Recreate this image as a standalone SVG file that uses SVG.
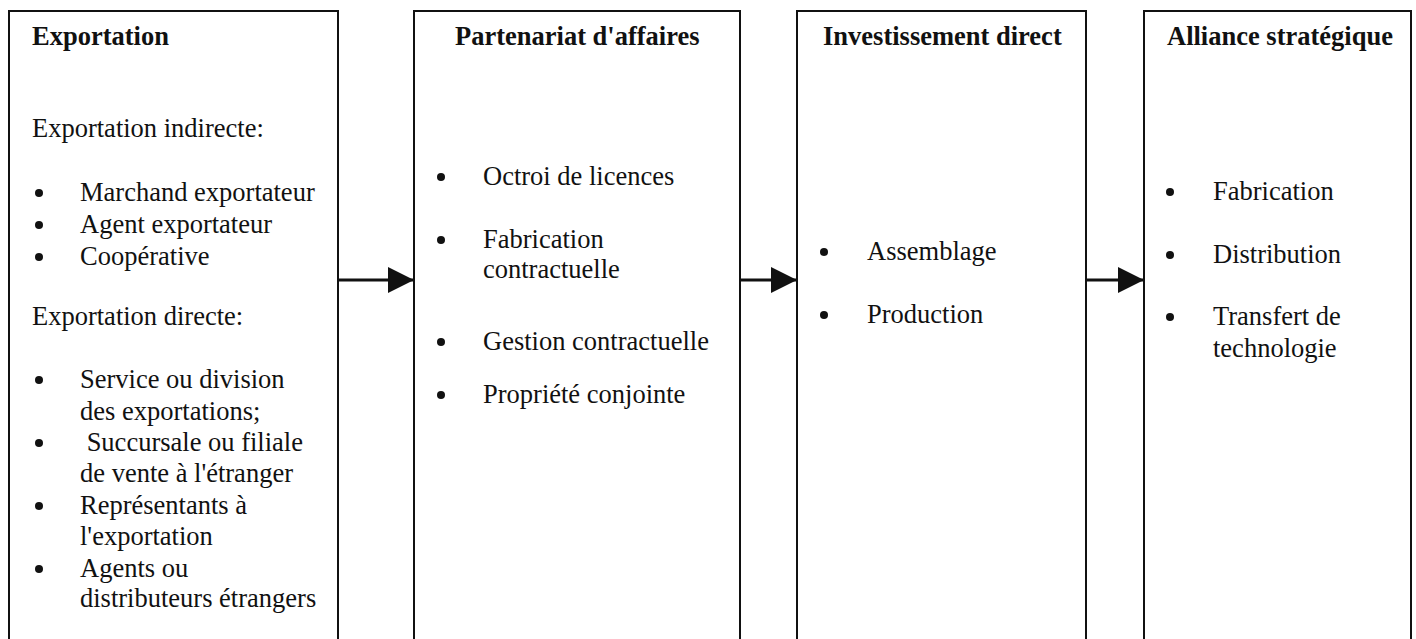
<svg xmlns="http://www.w3.org/2000/svg" width="1416" height="639" viewBox="0 0 1416 639">
<style>
.box{fill:#fff;stroke:#111;stroke-width:2}
.t{font-family:"Liberation Serif","Times New Roman",serif;font-size:26.5px;fill:#111}
.h{font-weight:bold}
.conn{stroke:#111;stroke-width:3;fill:none}
</style>
<defs>
<marker id="arr" markerUnits="userSpaceOnUse" markerWidth="28" markerHeight="26" refX="26" refY="13" orient="auto">
<path d="M0,0 L26,13 L0,26 Z" fill="#111"/>
</marker>
<circle id="b" r="4" fill="#111"/>
</defs>
<rect width="1416" height="639" fill="#fff"/>
<g id="n1">
<rect class="box" x="9" y="11" width="329" height="640"/>
<text class="t h" x="32" y="45">Exportation</text>
<text class="t" x="32" y="137">Exportation indirecte:</text>
<use href="#b" x="39" y="193"/><text class="t" x="80" y="201">Marchand exportateur</text>
<use href="#b" x="39" y="225"/><text class="t" x="80" y="233">Agent exportateur</text>
<use href="#b" x="39" y="257"/><text class="t" x="80" y="265">Coopérative</text>
<text class="t" x="32" y="325">Exportation directe:</text>
<use href="#b" x="39" y="380"/><text class="t" x="80" y="388">Service ou division</text>
<text class="t" x="80" y="420">des exportations;</text>
<use href="#b" x="39" y="443"/><text class="t" x="80" y="451" xml:space="preserve"> Succursale ou filiale</text>
<text class="t" x="80" y="482">de vente à l'étranger</text>
<use href="#b" x="39" y="506"/><text class="t" x="80" y="514">Représentants à</text>
<text class="t" x="80" y="545">l'exportation</text>
<use href="#b" x="39" y="569"/><text class="t" x="80" y="577">Agents ou</text>
<text class="t" x="80" y="607">distributeurs étrangers</text>
</g>
<g id="n2">
<rect class="box" x="414" y="11" width="326" height="640"/>
<text class="t h" x="455" y="45">Partenariat d'affaires</text>
<use href="#b" x="441" y="177"/><text class="t" x="483" y="185">Octroi de licences</text>
<use href="#b" x="441" y="240"/><text class="t" x="483" y="248">Fabrication</text>
<text class="t" x="483" y="278">contractuelle</text>
<use href="#b" x="441" y="342"/><text class="t" x="483" y="350">Gestion contractuelle</text>
<use href="#b" x="441" y="395"/><text class="t" x="483" y="403">Propriété conjointe</text>
</g>
<g id="n3">
<rect class="box" x="797" y="11" width="289" height="640"/>
<text class="t h" x="823" y="45">Investissement direct</text>
<use href="#b" x="824" y="252"/><text class="t" x="867" y="260">Assemblage</text>
<use href="#b" x="824" y="315"/><text class="t" x="867" y="323">Production</text>
</g>
<g id="n4">
<rect class="box" x="1144" y="11" width="267" height="640"/>
<text class="t h" x="1167" y="45">Alliance stratégique</text>
<use href="#b" x="1170" y="192"/><text class="t" x="1213" y="200">Fabrication</text>
<use href="#b" x="1170" y="255"/><text class="t" x="1213" y="263">Distribution</text>
<use href="#b" x="1170" y="317"/><text class="t" x="1213" y="325">Transfert de</text>
<text class="t" x="1213" y="357">technologie</text>
</g>
<g id="connectors">
<line class="conn" x1="339" y1="280" x2="414" y2="280" marker-end="url(#arr)"/>
<line class="conn" x1="741" y1="280" x2="797" y2="280" marker-end="url(#arr)"/>
<line class="conn" x1="1087" y1="280" x2="1144" y2="280" marker-end="url(#arr)"/>
</g>
</svg>
